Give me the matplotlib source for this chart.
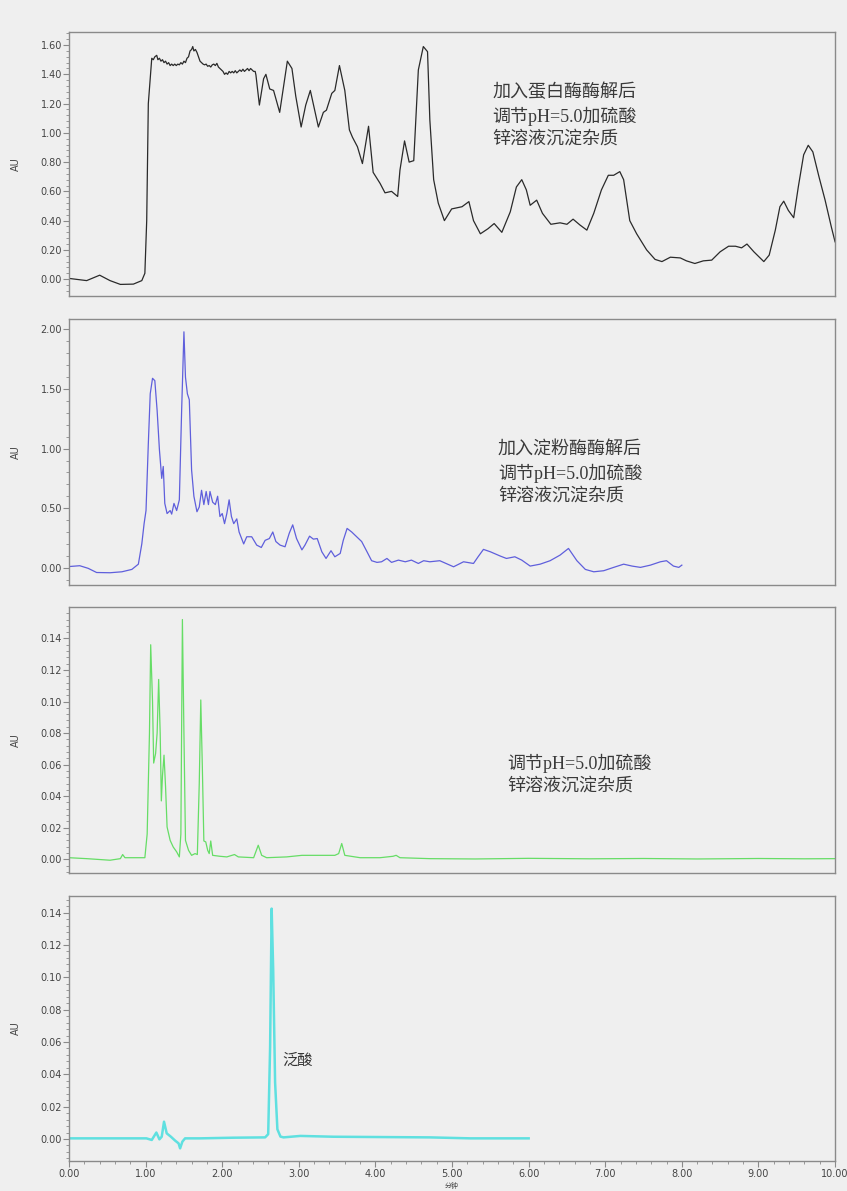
"""四个色谱图纵向排列：蛋白酶/淀粉酶处理后样品、仅沉淀处理样品与泛酸标准品。"""

import matplotlib.pyplot as plt
from matplotlib.ticker import FixedLocator, MultipleLocator

plt.rcParams["font.family"] = ["DejaVu Sans", "Noto Sans CJK SC"]

# =============================================================================
# 数据：保留时间 (min) 与吸光度 (AU)
# =============================================================================
protease_t = [
    0.00, 0.23, 0.40, 0.535, 0.67, 0.84, 0.95, 0.99, 1.014, 1.035, 1.08, 1.10, 1.12,
    1.145, 1.16, 1.18, 1.20, 1.22, 1.24, 1.26, 1.28, 1.30, 1.32, 1.34, 1.36, 1.38,
    1.40, 1.42, 1.44, 1.46, 1.48, 1.50, 1.52, 1.54, 1.56, 1.58, 1.60, 1.615, 1.63,
    1.65, 1.67, 1.69, 1.71, 1.73, 1.75, 1.77, 1.79, 1.81, 1.83, 1.85, 1.87, 1.89,
    1.91, 1.93, 1.95, 1.97, 1.99, 2.01, 2.03, 2.05, 2.07, 2.09, 2.11, 2.13, 2.15,
    2.17, 2.19, 2.21, 2.23, 2.25, 2.27, 2.29, 2.31, 2.33, 2.35, 2.37, 2.39, 2.41,
    2.43, 2.44, 2.485, 2.54, 2.57, 2.62, 2.67, 2.75, 2.80, 2.85, 2.91, 2.96, 3.03,
    3.09, 3.15, 3.20, 3.255, 3.32, 3.36, 3.43, 3.47, 3.53, 3.60, 3.66, 3.70, 3.765,
    3.83, 3.91, 3.97, 4.06, 4.125, 4.21, 4.29, 4.32, 4.38, 4.44, 4.50, 4.56, 4.625,
    4.68, 4.71, 4.76, 4.82, 4.90, 4.995, 5.13, 5.22, 5.28, 5.37, 5.47, 5.55, 5.65,
    5.76, 5.84, 5.91, 5.97, 6.02, 6.105, 6.18, 6.29, 6.41, 6.50, 6.58, 6.67, 6.76,
    6.85, 6.95, 7.04, 7.11, 7.19, 7.24, 7.32, 7.41, 7.54, 7.65, 7.74, 7.85, 7.98,
    8.06, 8.17, 8.28, 8.39, 8.50, 8.61, 8.70, 8.78, 8.85, 8.94, 9.07, 9.14, 9.22,
    9.28, 9.33, 9.39, 9.46, 9.52, 9.59, 9.65, 9.71, 9.79, 9.87, 9.95, 10.00,
]
protease_au = [
    0.005, -0.01, 0.027, -0.01, -0.036, -0.034, -0.01, 0.04, 0.40, 1.20, 1.51, 1.50, 1.52,
    1.53, 1.50, 1.51, 1.49, 1.50, 1.48, 1.49, 1.47, 1.48, 1.46, 1.47, 1.46, 1.47,
    1.46, 1.47, 1.465, 1.48, 1.47, 1.49, 1.48, 1.51, 1.52, 1.56, 1.57, 1.59, 1.56,
    1.57, 1.55, 1.52, 1.49, 1.48, 1.47, 1.465, 1.47, 1.455, 1.46, 1.45, 1.465, 1.47,
    1.46, 1.475, 1.45, 1.44, 1.43, 1.42, 1.40, 1.41, 1.40, 1.42, 1.41, 1.42, 1.41,
    1.425, 1.41, 1.42, 1.43, 1.42, 1.435, 1.42, 1.43, 1.44, 1.425, 1.44, 1.43, 1.42,
    1.42, 1.395, 1.19, 1.37, 1.40, 1.30, 1.29, 1.14, 1.315, 1.49, 1.44, 1.25, 1.04,
    1.19, 1.29, 1.17, 1.04, 1.14, 1.155, 1.27, 1.29, 1.46, 1.29, 1.02, 0.97, 0.905,
    0.79, 1.045, 0.73, 0.655, 0.59, 0.60, 0.565, 0.745, 0.945, 0.80, 0.81, 1.43, 1.59,
    1.555, 1.09, 0.68, 0.52, 0.40, 0.48, 0.495, 0.53, 0.40, 0.31, 0.345, 0.38, 0.32,
    0.46, 0.63, 0.68, 0.61, 0.505, 0.54, 0.45, 0.375, 0.385, 0.375, 0.41, 0.37, 0.335,
    0.45, 0.61, 0.71, 0.71, 0.735, 0.68, 0.40, 0.31, 0.20, 0.135, 0.12, 0.15, 0.145,
    0.125, 0.107, 0.125, 0.13, 0.187, 0.225, 0.225, 0.214, 0.24, 0.187, 0.12, 0.164, 0.335,
    0.495, 0.533, 0.47, 0.42, 0.63, 0.85, 0.915, 0.87, 0.70, 0.54, 0.36, 0.255,
]

amylase_t = [
    0.00, 0.14, 0.25, 0.36, 0.535, 0.69, 0.82, 0.905, 0.95, 0.98, 1.005, 1.035, 1.06,
    1.09, 1.12, 1.15, 1.18, 1.21, 1.23, 1.25, 1.28, 1.32, 1.34, 1.37, 1.405, 1.44,
    1.47, 1.50, 1.52, 1.545, 1.57, 1.60, 1.63, 1.67, 1.70, 1.73, 1.76, 1.79, 1.82,
    1.84, 1.875, 1.91, 1.94, 1.97, 2.00, 2.03, 2.06, 2.09, 2.12, 2.15, 2.19, 2.22,
    2.28, 2.32, 2.385, 2.45, 2.51, 2.56, 2.615, 2.66, 2.70, 2.755, 2.82, 2.875, 2.92,
    2.97, 3.04, 3.08, 3.14, 3.19, 3.24, 3.30, 3.355, 3.42, 3.47, 3.54, 3.58, 3.63,
    3.69, 3.755, 3.82, 3.89, 3.95, 4.02, 4.08, 4.15, 4.21, 4.30, 4.39, 4.47, 4.56,
    4.63, 4.71, 4.84, 5.02, 5.15, 5.28, 5.34, 5.41, 5.50, 5.63, 5.71, 5.82, 5.91,
    6.02, 6.15, 6.28, 6.41, 6.52, 6.63, 6.74, 6.85, 6.98, 7.11, 7.24, 7.35, 7.46,
    7.59, 7.72, 7.80, 7.89, 7.96, 8.00,
]
amylase_au = [
    0.01, 0.017, -0.005, -0.04, -0.042, -0.034, -0.014, 0.03, 0.20, 0.37, 0.48, 1.04, 1.46,
    1.59, 1.57, 1.32, 0.99, 0.75, 0.85, 0.54, 0.455, 0.48, 0.45, 0.54, 0.48, 0.57,
    1.32, 1.98, 1.60, 1.46, 1.41, 0.82, 0.60, 0.47, 0.51, 0.65, 0.53, 0.64, 0.53,
    0.64, 0.55, 0.53, 0.60, 0.43, 0.455, 0.37, 0.455, 0.57, 0.43, 0.37, 0.41, 0.30,
    0.20, 0.26, 0.26, 0.19, 0.17, 0.23, 0.245, 0.30, 0.22, 0.19, 0.176, 0.29, 0.36,
    0.245, 0.15, 0.19, 0.265, 0.24, 0.245, 0.134, 0.078, 0.143, 0.092, 0.12, 0.23, 0.33,
    0.30, 0.26, 0.22, 0.134, 0.059, 0.045, 0.05, 0.078, 0.045, 0.064, 0.05, 0.064, 0.036,
    0.059, 0.05, 0.059, 0.008, 0.05, 0.036, 0.092, 0.154, 0.134, 0.098, 0.078, 0.092, 0.064,
    0.014, 0.03, 0.059, 0.106, 0.162, 0.059, -0.014, -0.034, -0.025, 0.003, 0.03, 0.014, 0.003,
    0.022, 0.05, 0.059, 0.014, 0.003, 0.022,
]

blank_t = [
    0.00, 0.23, 0.535, 0.67, 0.70, 0.73, 0.99, 1.02, 1.05, 1.066, 1.09, 1.105, 1.13,
    1.15, 1.17, 1.19, 1.205, 1.22, 1.24, 1.26, 1.28, 1.32, 1.36, 1.405, 1.44, 1.46,
    1.48, 1.50, 1.52, 1.56, 1.60, 1.645, 1.675, 1.70, 1.72, 1.74, 1.76, 1.785, 1.81,
    1.83, 1.85, 1.875, 1.97, 2.06, 2.16, 2.21, 2.41, 2.47, 2.515, 2.58, 2.84, 3.04,
    3.28, 3.47, 3.52, 3.56, 3.60, 3.80, 4.06, 4.23, 4.27, 4.32, 4.71, 5.30, 6.00,
    6.80, 7.50, 8.20, 9.00, 9.60, 10.00,
]
blank_au = [
    0.001, 0.0004, -0.0006, 0.0004, 0.003, 0.001, 0.001, 0.016, 0.08, 0.136, 0.10, 0.061, 0.067,
    0.08, 0.114, 0.08, 0.037, 0.053, 0.066, 0.046, 0.0205, 0.012, 0.0078, 0.0047, 0.0015, 0.016,
    0.152, 0.08, 0.012, 0.0057, 0.0025, 0.0036, 0.003, 0.048, 0.101, 0.059, 0.0116, 0.011, 0.0057,
    0.0036, 0.0116, 0.0025, 0.0019, 0.0015, 0.003, 0.0015, 0.001, 0.0089, 0.0025, 0.001, 0.0015, 0.0025,
    0.0025, 0.0025, 0.0036, 0.010, 0.0025, 0.001, 0.001, 0.0019, 0.0025, 0.001, 0.0004, 0.0002, 0.0006,
    0.0003, 0.0005, 0.0002, 0.0005, 0.0003, 0.0004,
]

standard_t = [
    0.00, 1.01, 1.08, 1.14, 1.18, 1.21, 1.24, 1.275, 1.33, 1.385, 1.43, 1.45, 1.48,
    1.515, 1.71, 2.145, 2.56, 2.60, 2.625, 2.645, 2.665, 2.69, 2.72, 2.76, 2.80, 3.02,
    3.45, 4.71, 5.24, 6.00,
]
standard_au = [
    0.0004, 0.0004, -0.0006, 0.004, -0.0002, 0.0014, 0.0107, 0.0035, 0.0014, -0.001, -0.0027, -0.0058, -0.0016,
    0.0004, 0.0004, 0.0008, 0.001, 0.003, 0.057, 0.1425, 0.105, 0.035, 0.006, 0.0015, 0.001, 0.0019,
    0.0014, 0.001, 0.0004, 0.0004,
]

# 纵轴范围、刻度间距与标注
panel_ylims = [(-0.115, 1.69), (-0.145, 2.087), (-0.0087, 0.1599), (-0.0136, 0.1503)]
panel_major = [0.20, 0.50, 0.02, 0.02]
panel_minor = [0.04, 0.10, 0.004, 0.004]
panel_colors = ["#2a2a2a", "#5f5fdc", "#66dd66", "#5fe0e0"]
panel_widths = [0.9, 0.9, 0.9, 1.8]

protease_note = "加入蛋白酶酶解后\n调节pH=5.0加硫酸\n锌溶液沉淀杂质"
amylase_note = "加入淀粉酶酶解后\n调节pH=5.0加硫酸\n锌溶液沉淀杂质"
blank_note = "调节pH=5.0加硫酸\n锌溶液沉淀杂质"
standard_note = "泛酸"

BG = "#efefef"
SPINE = "#8a8a8a"
TEXT = "#444444"


def style_axis(ax, ylim, major, minor, show_x):
    ax.set_facecolor(BG)
    ax.set_xlim(0, 10)
    ax.set_ylim(*ylim)
    ax.yaxis.set_major_locator(MultipleLocator(major))
    ax.yaxis.set_minor_locator(MultipleLocator(minor))
    ax.yaxis.set_major_formatter(plt.FuncFormatter(lambda v, _: f"{v:.2f}"))
    for spine in ax.spines.values():
        spine.set_color(SPINE)
        spine.set_linewidth(1.0)
    ax.tick_params(axis="y", which="major", direction="out", length=4, width=0.8,
                   color=SPINE, labelsize=7, labelcolor=TEXT, pad=1)
    ax.tick_params(axis="y", which="minor", direction="out", length=2, width=0.6, color=SPINE)
    ax.set_ylabel("AU", fontsize=7, color=TEXT, labelpad=14)
    if show_x:
        ax.xaxis.set_major_locator(MultipleLocator(1.0))
        ax.xaxis.set_minor_locator(MultipleLocator(0.2))
        ax.xaxis.set_major_formatter(plt.FuncFormatter(lambda v, _: f"{v:.2f}"))
        ax.tick_params(axis="x", which="major", direction="out", length=4, width=0.8,
                       color=SPINE, labelsize=7, labelcolor=TEXT, pad=2)
        ax.tick_params(axis="x", which="minor", direction="out", length=2, width=0.6, color=SPINE)
    else:
        ax.xaxis.set_major_locator(FixedLocator([]))
        ax.xaxis.set_minor_locator(FixedLocator([]))


def main():
    fig = plt.figure(figsize=(8.47, 11.91), dpi=100, facecolor=BG)
    left, width = 0.0815, 0.9044
    boxes = [(0.7515, 0.2217), (0.5088, 0.2233), (0.2670, 0.2233), (0.0252, 0.2225)]
    series = [(protease_t, protease_au), (amylase_t, amylase_au),
              (blank_t, blank_au), (standard_t, standard_au)]

    axes = []
    for i, ((bottom, height), (t, au)) in enumerate(zip(boxes, series)):
        ax = fig.add_axes([left, bottom, width, height])
        style_axis(ax, panel_ylims[i], panel_major[i], panel_minor[i], show_x=(i == 3))
        ax.plot(t, au, color=panel_colors[i], linewidth=panel_widths[i])
        axes.append(ax)

    note_font = dict(family=["Liberation Serif", "Noto Sans CJK SC"], fontsize=13,
                     color="#3a3a3a", linespacing=1.35, va="top", ha="left")
    axes[0].text(0.553, 0.805, protease_note, transform=axes[0].transAxes, **note_font)
    axes[1].text(0.560, 0.54, amylase_note, transform=axes[1].transAxes, **note_font)
    axes[2].text(0.572, 0.45, blank_note, transform=axes[2].transAxes, **note_font)
    axes[3].text(0.279, 0.381, standard_note, transform=axes[3].transAxes,
                 family=["Noto Sans CJK SC"], fontsize=11, color="#333333", va="center", ha="left")

    # 横轴单位（原图中紧贴底边，字很小）
    fig.text(left + width * 0.5, 0.0012, "分钟", fontsize=5, color=TEXT, ha="center", va="bottom",
             family=["Noto Sans CJK SC"])

    fig.savefig("out.png", dpi=100, facecolor=BG)


if __name__ == "__main__":
    main()
